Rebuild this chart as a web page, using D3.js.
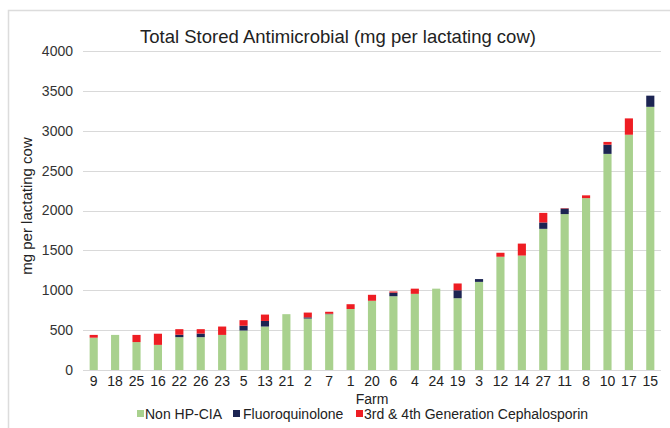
<!doctype html>
<html>
<head>
<meta charset="utf-8">
<title>Total Stored Antimicrobial</title>
<script src="https://d3js.org/d3.v7.min.js"></script>
<style>
  body { margin: 0; background: #fff; }
  text { font-family: "Liberation Sans", Arial, sans-serif; }
</style>
</head>
<body>
<div id="main"></div>
<script type="text/javascript">
 // farms, sorted as in the figure
 const farms = ['9', '18', '25', '16', '22', '26', '23', '5', '13', '21', '2', '7', '1', '20',
                '6', '4', '24', '19', '3', '12', '14', '27', '11', '8', '10', '17', '15']
 const nonHpCia = [405, 440, 350, 315, 412, 412, 440, 495, 545, 700, 645, 700, 765, 868,
                   925, 955, 1020, 900, 1105, 1420, 1435, 1770, 1955, 2155, 2710, 2950, 3300]
 const fluoro =   [0, 0, 0, 0, 30, 45, 0, 60, 70, 0, 15, 5, 0, 0,
                   45, 0, 0, 100, 35, 0, 0, 80, 70, 0, 115, 0, 140]
 const ceph =     [35, 0, 90, 140, 70, 55, 105, 70, 80, 0, 60, 25, 60, 75,
                   15, 65, 0, 85, 0, 50, 150, 120, 5, 35, 35, 205, 0]
 const yTicks = [0, 500, 1000, 1500, 2000, 2500, 3000, 3500, 4000]
 const seriesNames = ['Non HP-CIA', 'Fluoroquinolone', '3rd & 4th Generation Cephalosporin']
 const seriesKeys = ['nonHpCia', 'fluoro', 'ceph']
 const seriesColours = ['#a9d18e', '#1c2452', '#ee1d23']

 const W = 670, H = 428
 const margin = {left: 83, right: 9, top: 51, bottom: 58}

 const svg = d3.select('#main').append('svg')
               .attr('width', W).attr('height', H)

 // light frame
 svg.append('path')
    .attr('d', `M8.5,${H} V10.5 H${W}`)
    .attr('fill', 'none')
    .attr('stroke', '#dcdcdc')
    .attr('stroke-width', 1.5)

 const table = farms.map((f, i) => ({farm: f, nonHpCia: nonHpCia[i], fluoro: fluoro[i], ceph: ceph[i]}))
 const stacked = d3.stack().keys(seriesKeys)(table)

 const x = d3.scaleBand()
             .domain(farms)
             .range([margin.left, W - margin.right])
             .paddingInner(0.62)
             .paddingOuter(0.31)

 const y = d3.scaleLinear()
             .domain([0, 4000])
             .range([H - margin.bottom, margin.top])

 // gridlines
 svg.append('g').selectAll('line')
    .data(yTicks).enter().append('line')
    .attr('x1', margin.left).attr('x2', W - margin.right)
    .attr('y1', d => Math.round(y(d)) + 0.5).attr('y2', d => Math.round(y(d)) + 0.5)
    .attr('stroke', '#d9d9d9')
    .attr('stroke-width', 1.2)

 // y axis labels
 const yAxis = svg.append('g')
                  .attr('transform', `translate(${margin.left - 10},0)`)
                  .call(d3.axisLeft(y).tickValues(yTicks).tickFormat(d3.format('d')).tickSize(0).tickPadding(0))
 yAxis.select('.domain').remove()
 yAxis.selectAll('text')
      .style('font-size', '14px')
      .attr('fill', '#333')

 // bars
 svg.append('g').selectAll('g')
    .data(stacked).enter().append('g')
    .attr('fill', (d, i) => seriesColours[i])
    .selectAll('rect')
    .data(d => d).enter().append('rect')
    .attr('x', d => x(d.data.farm))
    .attr('width', x.bandwidth())
    .attr('y', d => y(d[1]))
    .attr('height', d => y(d[0]) - y(d[1]))

 // x axis labels
 const xAxis = svg.append('g')
                  .attr('transform', `translate(0,${H - margin.bottom + 6})`)
                  .call(d3.axisBottom(x).tickSize(0).tickPadding(0))
 xAxis.select('.domain').remove()
 xAxis.selectAll('text')
      .style('font-size', '14px')
      .attr('fill', '#222')

 // title
 svg.append('text')
    .attr('x', 338).attr('y', 43)
    .attr('text-anchor', 'middle')
    .style('font-size', '18.5px')
    .attr('fill', '#222')
    .text('Total Stored Antimicrobial (mg per lactating cow)')

 // axis titles
 svg.append('text')
    .attr('transform', 'translate(32,206) rotate(-90)')
    .attr('text-anchor', 'middle')
    .style('font-size', '15px')
    .attr('fill', '#222')
    .text('mg per lactating cow')

 svg.append('text')
    .attr('x', 372).attr('y', 404)
    .attr('text-anchor', 'middle')
    .style('font-size', '14px')
    .attr('fill', '#222')
    .text('Farm')

 // legend
 const legendX = [137, 233, 356]
 const legend = svg.append('g').selectAll('g')
                   .data(seriesNames).enter().append('g')
                   .attr('transform', (d, i) => `translate(${legendX[i]},414)`)
 legend.append('rect')
       .attr('x', 0).attr('y', -4).attr('width', 7).attr('height', 7)
       .attr('fill', (d, i) => seriesColours[i])
 legend.append('text')
       .attr('x', (d, i) => i === 1 ? 10 : 8).attr('y', 5)
       .style('font-size', '14px')
       .attr('fill', '#222')
       .text(d => d)
</script>
</body>
</html>
